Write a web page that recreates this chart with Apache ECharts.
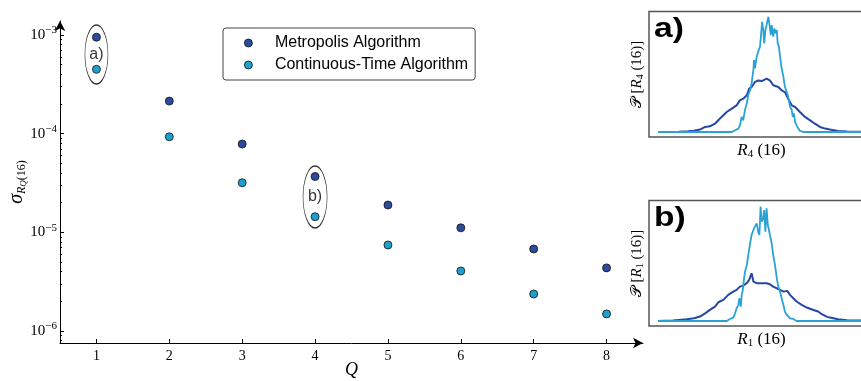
<!DOCTYPE html>
<html>
<head>
<meta charset="utf-8">
<script src="https://cdn.jsdelivr.net/npm/echarts@6/dist/echarts.min.js"></script>
<style>
html,body{margin:0;padding:0;background:#fff;}
#main{width:861px;height:381px;}
</style>
</head>
<body>
<div id="main"></div>
<script>
// main plot: sigma vs Q
var qValues = [1, 2, 3, 4, 5, 6, 7, 8];
var metropolis = [9.5e-4, 2.14e-4, 7.85e-5, 3.68e-5, 1.89e-5, 1.11e-5, 6.78e-6, 4.36e-6];
var continuous = [4.49e-4, 9.3e-5, 3.18e-5, 1.44e-5, 7.44e-6, 4.06e-6, 2.37e-6, 1.49e-6];
var yDecades = [-6, -5, -4, -3];
// circled pairs, centre value between the two points
var circled = [[1, 6.34e-4, 'a)'], [4, 2.28e-5, 'b)']];

// inset histograms (bin, P)
var histA_metro = [[0,0],[7,0.2],[10,0.6],[12,1.0],[14,1.9],[15.7,4],[17.3,4.5],[19,6.6],[20.1,9.3],[21.2,12],[22.9,15.9],[24.6,18.6],[26.2,21.2],[27.3,25.2],[28.4,26.5],[29.6,29.2],[30.4,34.5],[31.2,35.8],[32.3,39.8],[33.4,41.1],[34.6,40.6],[36.2,42.5],[37.3,41.1],[38.4,37.2],[40.1,35.8],[41.2,33.2],[42.3,31.8],[43.4,26.5],[44.6,21.2],[45.7,19.9],[47.3,15.9],[49,12],[50.7,9.3],[52.3,6.6],[54,4],[55.7,2.7],[57.3,1.9],[60,0.8],[63,0.3],[68,0.1]];
var histA_ct = [[0,0],[24.6,0],[25.1,1.3],[26.8,2.7],[27.3,5.3],[27.9,12],[28.4,9.3],[29,17.5],[29.6,22.8],[30.1,29.5],[30.7,33.4],[31.2,38.7],[31.8,49.4],[32,57.3],[32.3,50.7],[32.9,60],[33.4,64],[34,68],[34.3,76],[34.7,87.8],[35.1,81.2],[35.4,70.6],[35.8,81.2],[36.2,85.2],[36.8,91.8],[37.1,86.5],[37.6,77.2],[37.9,85.2],[38.4,76],[38.8,82.5],[39.2,78.6],[39.6,81.2],[39.9,70.6],[40.3,68],[40.7,60],[41.2,50.7],[41.8,44],[42.3,36],[42.9,32],[43.4,28],[44,20.2],[44.6,17.5],[44.9,12],[45.3,14.9],[45.7,8],[46.2,5.3],[46.8,2.7],[47.3,0.8],[48.4,0],[68,0]];
var histB_metro = [[0,0],[5,0.3],[9.6,1.3],[12,2.2],[14,3.5],[15.7,6.1],[17.3,8.8],[19,11.4],[20.1,14.9],[21.8,16.8],[23.4,20.8],[25.1,23.4],[26.2,24.8],[27.3,27.4],[28.4,28.2],[29.6,30.1],[30.4,32.7],[31.2,38],[31.8,31.4],[32.9,30.1],[34.6,30.1],[36.2,30.1],[37.3,29.3],[38.4,27.4],[40.1,25.5],[41.8,23.4],[43.1,24],[44,20.8],[45.1,18.1],[46.2,15.5],[47.9,12.8],[49.6,10.7],[51.8,8.8],[53.4,7.5],[54.6,5.4],[56.2,3.5],[57.3,2.7],[60,1.3],[63,0.6],[68,0.3]];
var histB_ct = [[0,0],[22.9,0],[24,1.6],[25.1,2.7],[25.7,6.1],[26.2,10.1],[26.8,12.8],[27.1,18.1],[27.6,11.4],[27.9,20.8],[28.2,23.4],[28.7,34.1],[29,39.3],[29.6,44.6],[30.1,52.6],[30.7,61.9],[31.2,68.5],[31.8,72.5],[32.3,75.2],[32.9,77.8],[33.4,71.2],[33.8,68.5],[34.2,91.1],[34.6,79.1],[34.9,77.8],[35.1,81.8],[35.4,88.4],[35.8,71.2],[36.2,89.8],[36.6,76.5],[37,72.5],[37.3,68.5],[37.9,61.9],[38.4,52.6],[39,44.6],[39.6,34.1],[40.1,27.4],[40.7,23.4],[41.2,18.1],[41.8,12.8],[42.3,7.5],[42.9,4.8],[43.4,3.5],[44,2.1],[45.1,1.6],[46.2,0],[68,0]];

var yLogMin = -6.122, yLogMax = -2.858;
var serif = "'Liberation Serif', 'DejaVu Serif', serif";
var sans = "'Liberation Sans', Arial, sans-serif";
var colMetro = '#2b4c9e', colCT = '#1fa0cc';
var lineMetro = '#2547a6', lineCT = '#29a3d5';

// minor ticks 2..9 of every decade, in log10 units
var minorTicks = [];
for (var e = -7; e <= -3; e++) {
    for (var k = 2; k <= 9; k++) {
        var v = e + Math.log10(k);
        if (v > yLogMin && v < yLogMax) minorTicks.push(v);
    }
}

var chart = echarts.init(document.getElementById('main'));

function insetX(grid) {
    return {
        gridIndex: grid, type: 'value', min: -3, max: 72,
        name: grid == 1 ? '{i|R}{s|4}{t| (16)}' : '{i|R}{s|1}{t| (16)}',
        nameLocation: 'middle', nameGap: 5, nameMoveOverlap: false,
        nameTextStyle: {
            rich: {
                i: {fontFamily: serif, fontStyle: 'italic', fontSize: 17, color: '#000', lineHeight: 18},
                s: {fontFamily: serif, fontSize: 11, color: '#000', lineHeight: 10, verticalAlign: 'bottom'},
                t: {fontFamily: serif, fontSize: 17, color: '#000', lineHeight: 18}
            }
        },
        axisLine: {show: false}, axisTick: {show: false}, axisLabel: {show: false}, splitLine: {show: false}
    };
}
function insetY(grid) {
    return {
        gridIndex: grid, type: 'value', min: -4, max: 96,
        name: grid == 1 ? '{p|\uD835\uDCAB} {t|[}{i|R}{s|4}{t| (16)]}' : '{p|\uD835\uDCAB} {t|[}{i|R}{s|1}{t| (16)]}',
        nameLocation: 'middle', nameGap: 4, nameRotate: 90, nameMoveOverlap: false,
        nameTextStyle: {
            rich: {
                p: {fontFamily: "'DejaVu Serif', serif", fontSize: 15, color: '#000', lineHeight: 16},
                i: {fontFamily: serif, fontStyle: 'italic', fontSize: 15, color: '#000', lineHeight: 16},
                s: {fontFamily: serif, fontSize: 10, color: '#000', lineHeight: 9, verticalAlign: 'bottom'},
                t: {fontFamily: serif, fontSize: 15, color: '#000', lineHeight: 16}
            }
        },
        axisLine: {show: false}, axisTick: {show: false}, axisLabel: {show: false}, splitLine: {show: false}
    };
}

var option = {
    animation: false,
    backgroundColor: '#fff',
    grid: [
        {left: 60, top: 21, right: 218, bottom: 38, containLabel: false, outerBoundsMode: 'none'},
        {left: 649, top: 11.5, width: 225, height: 125.5, show: true, borderColor: '#555', borderWidth: 1.5, backgroundColor: 'transparent', containLabel: false, outerBoundsMode: 'none'},
        {left: 649, top: 200.5, width: 225, height: 125.5, show: true, borderColor: '#555', borderWidth: 1.5, backgroundColor: 'transparent', containLabel: false, outerBoundsMode: 'none'}
    ],
    legend: {
        data: ['Metropolis Algorithm', 'Continuous-Time Algorithm'],
        orient: 'vertical',
        left: 223, top: 28,
        padding: [7, 7, 7, 21],
        itemWidth: 43, itemHeight: 8, itemGap: 6,
        borderColor: '#444', borderWidth: 1, borderRadius: 3,
        itemStyle: {borderWidth: 0.8, borderColor: '#111'},
        textStyle: {fontFamily: sans, fontSize: 16, color: '#000'}
    },
    xAxis: [
        {
            gridIndex: 0, type: 'value', min: 0.5, max: 8.5,
            name: 'Q', nameLocation: 'middle', nameGap: 18, nameMoveOverlap: false,
            nameTextStyle: {fontFamily: serif, fontStyle: 'italic', fontSize: 18, color: '#000'},
            axisLine: {onZero: false, symbol: ['none', 'arrow'], symbolSize: [8, 10], lineStyle: {color: '#000', width: 1}},
            axisTick: {inside: true, length: 4, customValues: qValues, lineStyle: {color: '#000'}},
            axisLabel: {customValues: qValues, fontFamily: serif, fontSize: 14, color: '#000', margin: 6},
            splitLine: {show: false}
        },
        insetX(1),
        insetX(2)
    ],
    yAxis: [
        {gridIndex: 0, type: 'log', logBase: 10, min: Math.pow(10, yLogMin), max: Math.pow(10, yLogMax), show: false},
        {
            gridIndex: 0, type: 'value', position: 'left', min: yLogMin, max: yLogMax,
            name: '{s|\u03c3}{r|R}{q|Q}{p|(16)}', nameLocation: 'middle', nameGap: 32, nameRotate: 90, nameMoveOverlap: false,
            nameTextStyle: {
                rich: {
                    s: {fontFamily: serif, fontStyle: 'italic', fontSize: 20, color: '#000', lineHeight: 22},
                    r: {fontFamily: serif, fontStyle: 'italic', fontSize: 12, color: '#000', lineHeight: 14, verticalAlign: 'bottom'},
                    q: {fontFamily: serif, fontStyle: 'italic', fontSize: 9, color: '#000', lineHeight: 9, verticalAlign: 'bottom'},
                    p: {fontFamily: serif, fontSize: 12, color: '#000', lineHeight: 14, verticalAlign: 'bottom'}
                }
            },
            axisLine: {onZero: false, symbol: ['none', 'arrow'], symbolSize: [8, 10], lineStyle: {color: '#000', width: 1}},
            axisTick: {inside: true, length: 4, customValues: yDecades, lineStyle: {color: '#000'}},
            axisLabel: {
                customValues: yDecades, margin: 3,
                formatter: function (v) { return '{b|10}{e|\u2212' + Math.abs(v) + '}'; },
                rich: {
                    b: {fontFamily: serif, fontSize: 15, color: '#000', lineHeight: 20},
                    e: {fontFamily: serif, fontSize: 11, color: '#000', lineHeight: 11, verticalAlign: 'top'}
                }
            },
            splitLine: {show: false}
        },
        {
            gridIndex: 0, type: 'value', position: 'left', min: yLogMin, max: yLogMax,
            axisLine: {show: false, onZero: false},
            axisTick: {inside: true, length: 2, customValues: minorTicks, lineStyle: {color: '#000'}},
            axisLabel: {show: false}, splitLine: {show: false}
        },
        insetY(1),
        insetY(2)
    ],
    graphic: [
        {type: 'text', left: 654, top: 15, scaleX: 1.2, style: {text: 'a)', font: 'bold 28px ' + sans, fill: '#000'}},
        {type: 'text', left: 654, top: 204, scaleX: 1.2, style: {text: 'b)', font: 'bold 28px ' + sans, fill: '#000'}}
    ],
    series: [
        {
            type: 'scatter', xAxisIndex: 0, yAxisIndex: 0, silent: true, z: 1,
            data: circled.map(function (c, i) {
                return {value: [c[0], c[1]], name: c[2], symbolSize: i == 0 ? [23, 59] : [24, 62]};
            }),
            symbol: 'circle',
            itemStyle: {color: 'rgba(0,0,0,0)', borderColor: '#000', borderWidth: 1},
            label: {show: true, position: 'inside', formatter: '{b}', fontFamily: sans, fontSize: 16, color: '#000'}
        },
        {
            name: 'Metropolis Algorithm', type: 'scatter', xAxisIndex: 0, yAxisIndex: 0, z: 3,
            symbolSize: 8,
            data: qValues.map(function (q, i) { return [q, metropolis[i]]; }),
            itemStyle: {color: colMetro, borderColor: '#111', borderWidth: 0.8, opacity: 1}
        },
        {
            name: 'Continuous-Time Algorithm', type: 'scatter', xAxisIndex: 0, yAxisIndex: 0, z: 3,
            symbolSize: 8,
            data: qValues.map(function (q, i) { return [q, continuous[i]]; }),
            itemStyle: {color: colCT, borderColor: '#111', borderWidth: 0.8, opacity: 1}
        },
        {type: 'line', xAxisIndex: 1, yAxisIndex: 3, data: histA_metro, showSymbol: false, silent: true, lineStyle: {color: lineMetro, width: 2}},
        {type: 'line', xAxisIndex: 1, yAxisIndex: 3, data: histA_ct, showSymbol: false, silent: true, lineStyle: {color: lineCT, width: 1.8}},
        {type: 'line', xAxisIndex: 2, yAxisIndex: 4, data: histB_metro, showSymbol: false, silent: true, lineStyle: {color: lineMetro, width: 2}},
        {type: 'line', xAxisIndex: 2, yAxisIndex: 4, data: histB_ct, showSymbol: false, silent: true, lineStyle: {color: lineCT, width: 1.8}}
    ]
};
chart.setOption(option);
</script>
</body>
</html>
